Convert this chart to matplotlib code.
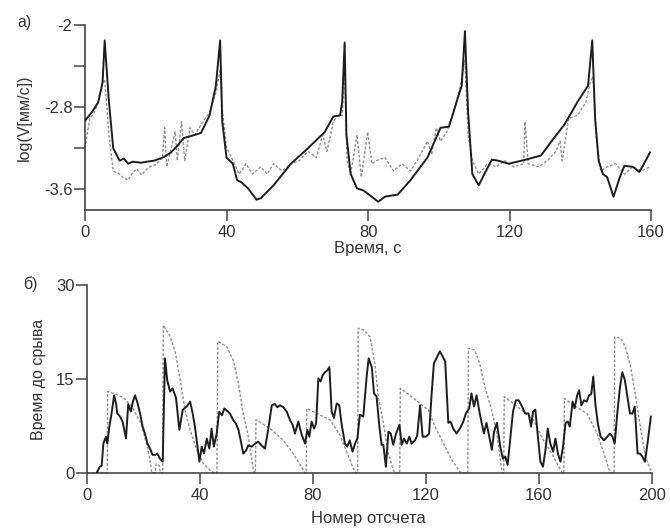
import matplotlib
matplotlib.use("Agg")
import matplotlib.pyplot as plt

plt.rcParams["font.family"] = ["Liberation Sans", "DejaVu Sans"]

# panel a: log of slip velocity vs time
t_obs = [0, 1.93, 3.75, 4.96, 5.56, 6.77, 7.98, 9.79, 11.0, 12.2, 13.5, 15.8, 17.5,
         19.5, 22.0, 24.3, 26.0, 27.9, 30.0, 32.8, 35.2, 37.0, 38.2, 38.8, 40.0,
         41.8, 43.0, 44.2, 46.1, 48.5, 49.7, 53.3, 58.2, 63.0, 67.8, 70.2, 72.1,
         72.7, 73.4, 73.9, 75.1, 76.9, 78.7, 79.9, 82.9, 84.8, 88.4, 92.0, 96.8,
         100.5, 102.9, 105.3, 106.5, 107.4, 108.3, 109.5, 111.3, 113.2, 115.0,
         116.8, 119.8, 124.6, 128.9, 131.9, 135.5, 139.2, 142.2, 143.4, 144.2,
         145.2, 146.4, 147.6, 149.4, 151.2, 152.5, 154.9, 156.7, 158.5, 159.7]
logv_obs = [-2.93, -2.85, -2.75, -2.56, -2.15, -2.75, -3.2, -3.32, -3.30, -3.35,
            -3.33, -3.34, -3.33, -3.32, -3.29, -3.24, -3.18, -3.10, -3.08, -3.05,
            -2.88, -2.59, -2.15, -2.94, -3.29, -3.35, -3.51, -3.53, -3.59, -3.70,
            -3.685, -3.56, -3.35, -3.2, -3.04, -2.89, -2.88, -2.75, -2.17, -3.07,
            -3.45, -3.59, -3.61, -3.64, -3.72, -3.67, -3.65, -3.51, -3.29, -3.0,
            -2.99, -2.72, -2.59, -2.06, -2.85, -3.45, -3.56, -3.43, -3.31, -3.32,
            -3.35, -3.31, -3.27, -3.13, -2.97, -2.75, -2.59, -2.15, -2.91, -3.32,
            -3.45, -3.48, -3.67, -3.48, -3.37, -3.38, -3.43, -3.32, -3.24]

t_mod = [0, 1.33, 2.54, 3.75, 4.96, 5.56, 6.77, 7.98, 9.79, 11.0, 12.2, 13.4, 14.6,
         16.0, 17.5, 18.3, 20.0, 21.9, 22.5, 23.1, 25.5, 26.1, 27.3, 28.2, 29.7,
         31.0, 32.8, 35.2, 37.0, 38.2, 38.8, 40.0, 41.8, 43.6, 45.5, 47.3, 49.7,
         51.5, 53.3, 55.7, 58.2, 60.6, 63.0, 65.4, 67.2, 68.4, 70.2, 71.5, 72.7,
         73.4, 74.1, 75.1, 76.9, 78.1, 79.9, 81.1, 82.3, 84.8, 87.2, 89.6, 92.0,
         94.4, 96.8, 98.0, 99.3, 100.5, 102.3, 104.1, 105.9, 107.4, 108.3, 109.5,
         111.3, 113.8, 116.2, 118.6, 121.0, 124.0, 124.4, 125.3, 128.3, 130.7,
         133.1, 134.3, 134.9, 136.7, 139.2, 141.6, 142.8, 143.6, 144.6, 145.8,
         147.6, 150.0, 152.5, 154.9, 157.3, 159.7]
logv_mod = [-3.2, -2.91, -2.86, -2.75, -2.56, -2.53, -3.07, -3.42, -3.45, -3.49,
            -3.51, -3.44, -3.40, -3.46, -3.40, -3.38, -3.36, -3.29, -3.0, -3.38,
            -3.04, -3.32, -2.94, -3.32, -3.0, -3.07, -2.97, -2.85, -2.66, -2.44,
            -2.82, -3.19, -3.32, -3.45, -3.35, -3.45, -3.38, -3.45, -3.35, -3.42,
            -3.35, -3.32, -3.23, -3.29, -3.07, -3.23, -2.94, -2.88, -2.88, -2.44,
            -3.32, -3.45, -3.07, -3.48, -3.04, -3.35, -3.32, -3.29, -3.42, -3.35,
            -3.42, -3.29, -3.13, -3.26, -3.0, -3.13, -3.04, -2.85, -2.63, -2.34,
            -3.07, -3.32, -3.45, -3.35, -3.38, -3.32, -3.38, -3.35, -2.94, -3.35,
            -3.38, -3.32, -3.23, -3.13, -3.32, -2.91, -2.88, -2.75, -2.56, -2.50,
            -3.13, -3.42, -3.38, -3.35, -3.45, -3.38, -3.42, -3.38]

# panel b: time to failure vs sample number
n_pred = [3.4, 4.5, 5.2, 5.8, 6.7, 7.2, 7.9, 8.7, 9.6, 10.3, 10.7, 11.7, 12.6, 13.8,
          14.6, 15.5, 16.2, 17.0, 17.8, 18.8, 19.7, 20.5, 21.4, 22.3, 23.2, 24.1,
          24.9, 25.8, 26.8, 27.6, 28.4, 29.4, 30.3, 31.5, 32.7, 33.9, 35.3, 36.5,
          37.4, 38.2, 39.1, 39.8, 40.6, 41.4, 42.4, 43.3, 44.1, 44.9, 45.9, 46.8,
          47.8, 48.6, 49.4, 50.6, 51.8, 52.7, 53.6, 54.4, 55.3, 56.3, 57.1, 58.3,
          59.5, 60.6, 61.8, 63.0, 64.2, 65.4, 66.5, 67.4, 68.3, 69.5, 70.7, 71.9,
          72.8, 73.6, 74.8, 76.0, 77.2, 78.0, 78.7, 79.5, 80.4, 81.1, 81.9, 82.7,
          83.4, 84.3, 85.1, 85.8, 86.6, 87.4, 88.4, 89.3, 90.1, 91.3, 92.1, 93.0,
          94.0, 94.9, 95.7, 96.6, 97.8, 99.0, 99.7, 100.8, 101.6, 102.5, 103.5,
          104.3, 104.9, 105.8, 106.7, 107.5, 108.4, 109.4, 110.6, 111.4, 112.2,
          113.2, 114.1, 114.9, 116.1, 116.9, 117.9, 118.8, 120.0, 121.1, 122.0,
          122.8, 124.0, 124.9, 125.9, 126.8, 127.9, 128.7, 129.6, 130.8, 132.0,
          133.2, 134.1, 135.3, 136.1, 137.0, 137.9, 138.9, 139.7, 140.5, 141.4,
          142.4, 143.3, 144.1, 145.1, 146.3, 147.2, 148.1, 148.9, 149.9, 150.8,
          151.8, 152.8, 154.0, 155.1, 156.3, 157.2, 157.9, 158.7, 159.5, 160.5,
          161.4, 162.3, 163.1, 164.0, 165.0, 165.8, 166.7, 167.6, 168.5, 169.4,
          170.2, 170.9, 171.9, 172.6, 173.5, 174.2, 175.0, 175.9, 176.9, 177.7,
          178.5, 179.2, 180.0, 180.9, 181.8, 183.0, 184.2, 185.1, 186.0, 186.8,
          187.7, 188.7, 189.5, 190.4, 191.3, 192.2, 193.1, 193.9, 194.9, 195.8,
          196.6, 197.5, 198.4, 199.6]
ttf_pred = [0, 1.0, 1.2, 4.7, 5.8, 4.7, 7.4, 9.5, 12.4, 11.0, 9.5, 9.0, 8.2, 5.5,
            11.0, 9.8, 11.3, 12.4, 11.3, 9.5, 7.4, 6.3, 4.7, 3.9, 2.9, 2.9, 3.1,
            2.3, 1.8, 18.3, 14.8, 13.0, 13.5, 12.0, 6.9, 10.1, 10.6, 11.4, 9.5,
            7.4, 4.2, 1.8, 4.2, 3.1, 5.5, 3.9, 7.1, 4.2, 6.3, 9.8, 9.2, 10.3, 10.0,
            9.5, 8.4, 7.9, 6.9, 5.2, 3.1, 3.6, 4.4, 4.2, 4.7, 5.0, 4.4, 3.9, 7.1,
            10.8, 11.0, 10.5, 10.8, 10.5, 9.8, 8.4, 7.7, 6.3, 8.2, 6.1, 4.7, 6.9,
            5.8, 8.2, 7.1, 7.9, 15.1, 14.6, 15.6, 16.1, 16.4, 16.9, 9.8, 8.8, 11.1,
            10.8, 7.9, 4.7, 4.2, 5.2, 3.4, 4.7, 5.5, 9.3, 9.0, 15.4, 18.3, 16.9,
            12.7, 12.2, 7.4, 4.5, 4.5, 1.0, 6.6, 6.3, 4.5, 6.3, 7.7, 4.5, 5.5, 4.7,
            5.8, 4.7, 5.2, 6.0, 10.8, 5.8, 5.8, 6.3, 12.7, 17.5, 18.6, 19.4, 18.6,
            17.8, 8.0, 8.2, 7.1, 6.3, 7.1, 8.2, 9.5, 10.3, 12.7, 10.6, 12.4, 9.8,
            8.0, 6.3, 8.0, 5.8, 3.7, 6.6, 8.0, 4.2, 2.3, 2.6, 1.3, 5.8, 9.8, 11.6,
            11.6, 10.6, 9.5, 9.5, 7.4, 9.8, 10.1, 6.3, 1.8, 1.0, 3.7, 7.1, 4.7, 3.4,
            5.5, 3.1, 1.8, 4.2, 8.0, 8.2, 7.4, 11.4, 10.3, 12.4, 13.2, 10.8, 11.6,
            11.4, 12.4, 12.6, 15.4, 10.8, 7.7, 5.8, 5.2, 5.8, 6.3, 5.8, 4.7, 9.5,
            13.8, 16.1, 14.8, 12.2, 9.5, 9.5, 10.6, 3.1, 3.1, 2.6, 1.8, 4.7, 9.0]

n_true = [0, 7.2, 7.3, 10, 13, 16, 19, 21.5, 23, 24, 24.5, 25.5, 26, 26.8, 27, 29.4,
          31.2, 33, 34.7, 36.5, 38.8, 41.2, 44.1, 45.5, 46, 46.3, 49.4, 51.8, 53.6,
          55.3, 57.1, 58.9, 59.3, 59.6, 59.8, 64.8, 69.5, 73, 76.6, 77.2, 77.6,
          77.8, 81.3, 86, 89.5, 91.9, 94.2, 95.2, 95.8, 96, 98, 100.2, 101.9, 103.1,
          104.9, 106.7, 108.4, 109, 110.7, 110.9, 114.3, 117.9, 120.9, 123.2,
          126.2, 129.1, 132, 133, 134.8, 135, 137.3, 139, 140.8, 143.2, 145.1,
          146.3, 147, 147.5, 147.7, 150.9, 154.5, 158, 161.6, 164.5, 167.6, 168.3,
          168.8, 169, 172.3, 177, 180.6, 183, 184.8, 185.5, 186.6, 186.8, 188.9,
          190.6, 192.4, 194.2, 196, 197.7, 199.5, 200]
ttf_true = [0, 0, 13, 12.6, 12, 10.5, 8, 4, 0, 0, 1.5, 1.2, 0, 0, 23.6, 21.8, 19.4,
            14.8, 10, 6.9, 3.7, 1.5, 0.2, 0, 0, 21, 20.2, 18, 14.3, 9.5, 5.8, 0.5,
            0, 0, 8.5, 7.1, 5.2, 3.1, 0.5, 0, 0, 10.3, 9.5, 8.5, 6.1, 3.4, 0.8, 0,
            0, 23.1, 22.8, 21.7, 17.5, 12.2, 8, 3.1, 0.5, 0, 0, 13.5, 12.4, 11.1,
            10, 7.4, 4.7, 2.1, 0.2, 0, 0, 19.9, 19.6, 17.5, 13.8, 10.1, 6.3, 2.1,
            0, 0, 12.2, 11.1, 9.8, 8.5, 5.2, 3.1, 0.5, 0, 0, 11.9, 10.8, 9.5, 6.3,
            3.1, 0.5, 0, 0, 21.7, 21.5, 20.1, 17, 12.2, 7, 2.6, 0.5, 0]

TXT = "#333333"
AX = "#444444"

fig = plt.figure(figsize=(6.70, 5.29), dpi=100)
ax1 = fig.add_axes([85 / 670, 1 - 210 / 529, 566 / 670, 185 / 529])
ax2 = fig.add_axes([87 / 670, 1 - 473 / 529, 565 / 670, 188 / 529])

ax1.plot(t_mod, logv_mod, color="#8f8f8f", lw=1.0, ls=(0, (2, 1.3)), zorder=2)
ax1.plot(t_obs, logv_obs, color="#1e1e1e", lw=1.4, zorder=3)
ax1.set_xlim(0, 160)
ax1.set_ylim(-3.8, -2)
ax1.set_xticks([0, 40, 80, 120, 160])
ax1.set_yticks([-2, -2.8, -3.6])
ax1.set_yticklabels(["-2", "-2.8", "-3.6"])
ax1.set_yticks([-2.4, -3.2], minor=True)

ax2.plot(n_true, ttf_true, color="#8f8f8f", lw=1.0, ls=(0, (2, 1.3)), zorder=2,
         clip_on=False)
ax2.plot(n_pred, ttf_pred, color="#1e1e1e", lw=1.4, zorder=3)
ax2.set_xlim(0, 200)
ax2.set_ylim(0, 30)
ax2.set_xticks([0, 40, 80, 120, 160, 200])
ax2.set_yticks([0, 15, 30])

for ax in (ax1, ax2):
    for side in ("top", "right"):
        ax.spines[side].set_visible(False)
    for side in ("left", "bottom"):
        ax.spines[side].set_color(AX)
        ax.spines[side].set_linewidth(1.2)
    ax.tick_params(which="both", direction="out", length=8, width=1.1,
                   color=AX, labelcolor=TXT, labelsize=12)
    ax.tick_params(axis="y", which="both", pad=1)
    ax.tick_params(axis="x", pad=3)

ax1.set_ylabel("log(V[мм/с])", fontsize=11.5, color=TXT)
ax1.yaxis.set_label_coords(-0.094, 0.5)
ax2.set_ylabel("Время до срыва", fontsize=11.5, color=TXT)
ax2.yaxis.set_label_coords(-0.072, 0.5)

fig.text(368 / 670, 1 - 249 / 529, "Время, с", ha="center", va="center",
         fontsize=12, color=TXT)
fig.text(368 / 670, 1 - 519 / 529, "Номер отсчета", ha="center", va="center",
         fontsize=12, color=TXT)
fig.text(24 / 670, 1 - 23 / 529, "а)", ha="center", va="center",
         fontsize=11.5, color=TXT)
fig.text(30 / 670, 1 - 284 / 529, "б)", ha="center", va="center",
         fontsize=11.5, color=TXT)

fig.savefig("out.png", dpi=100)
